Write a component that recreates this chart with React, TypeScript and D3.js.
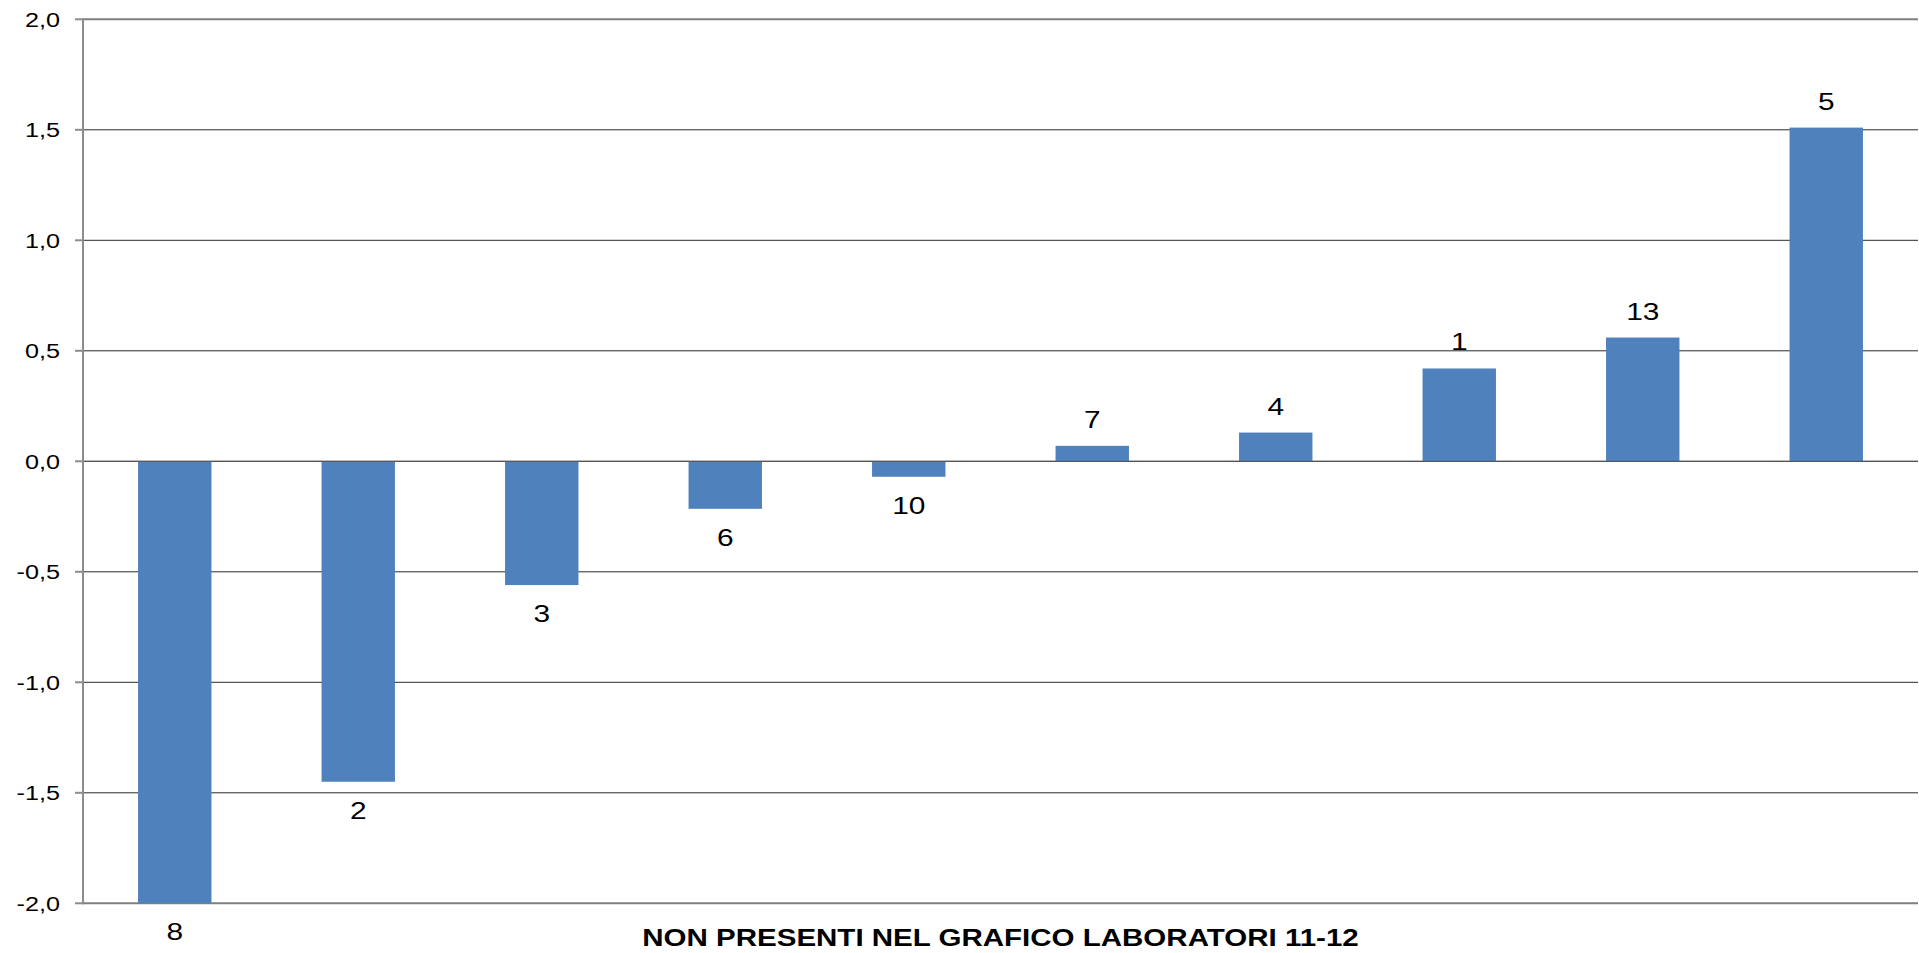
import React from "react";
import * as d3 from "d3";

const categories = ["8", "2", "3", "6", "10", "7", "4", "1", "13", "5"];
const values = [-2.0, -1.45, -0.56, -0.215, -0.07, 0.07, 0.13, 0.42, 0.56, 1.51];
const yTicks = [-2, -1.5, -1, -0.5, 0, 0.5, 1, 1.5, 2];
const xTitle = "NON PRESENTI NEL GRAFICO LABORATORI 11-12";

const W = 1919;
const H = 953;
const left = 83;
const right = 1918;
const top = 19.3;
const bottom = 903.3;
const FONT = "'Liberation Sans', Arial, sans-serif";

export default function App() {
  const x = d3.scaleBand<string>().domain(categories).range([left, right]).paddingInner(0.6).paddingOuter(0.3);
  const y = d3.scaleLinear().domain([-2, 2]).range([bottom, top]);
  const fmt = (v: number) => d3.format(".1f")(v).replace(".", ",").replace("−", "-");

  return (
    <svg width={W} height={H} style={{ position: "absolute", left: 0, top: 0, display: "block", background: "#fff" }}>
      {/* gridlines */}
      {yTicks.map((t) => (
        <line key={"g" + t} x1={left} x2={right} y1={y(t)} y2={y(t)} stroke={t === -2 || t === 2 ? "#7f7f7f" : "#2a2a2a"} strokeWidth={t === -2 || t === 2 ? 2 : 1} />
      ))}
      {/* bars */}
      {values.map((v, i) => {
        const c = categories[i];
        const y0 = y(Math.max(0, v));
        const y1 = y(Math.min(0, v));
        return <rect key={"b" + c} x={x(c)} y={y0} width={x.bandwidth()} height={y1 - y0} fill="#4F81BD" />;
      })}
      {/* zero line over bars */}
      <line x1={left} x2={right} y1={y(0)} y2={y(0)} stroke="#555" strokeWidth={1} />
      {/* y axis */}
      <line x1={left} x2={left} y1={top - 1} y2={bottom + 1} stroke="#8c8c8c" strokeWidth={2} />
      {yTicks.map((t) => (
        <g key={"t" + t}>
          <line x1={75} x2={left} y1={y(t)} y2={y(t)} stroke="#8c8c8c" strokeWidth={2} />
          <text
            transform={`translate(60,${y(t)}) scale(1.2,1)`}
            textAnchor="end"
            dy="0.35em"
            fontFamily={FONT}
            fontSize={21}
            fill="#000"
          >
            {fmt(t)}
          </text>
        </g>
      ))}
      {/* data labels */}
      {values.map((v, i) => {
        const c = categories[i];
        const cx = (x(c) as number) + x.bandwidth() / 2;
        const ly = v >= 0 ? y(v) - 18 : y(v) + 37;
        return (
          <text
            key={"l" + c}
            transform={`translate(${cx},${ly}) scale(1.3,1)`}
            textAnchor="middle"
            fontFamily={FONT}
            fontSize={23}
            fill="#000"
          >
            {c}
          </text>
        );
      })}
      {/* x title */}
      <text
        transform={`translate(${(left + right) / 2},946) scale(1.23,1)`}
        textAnchor="middle"
        fontFamily={FONT}
        fontWeight="bold"
        fontSize={24}
        fill="#000"
      >
        {xTitle}
      </text>
    </svg>
  );
}
